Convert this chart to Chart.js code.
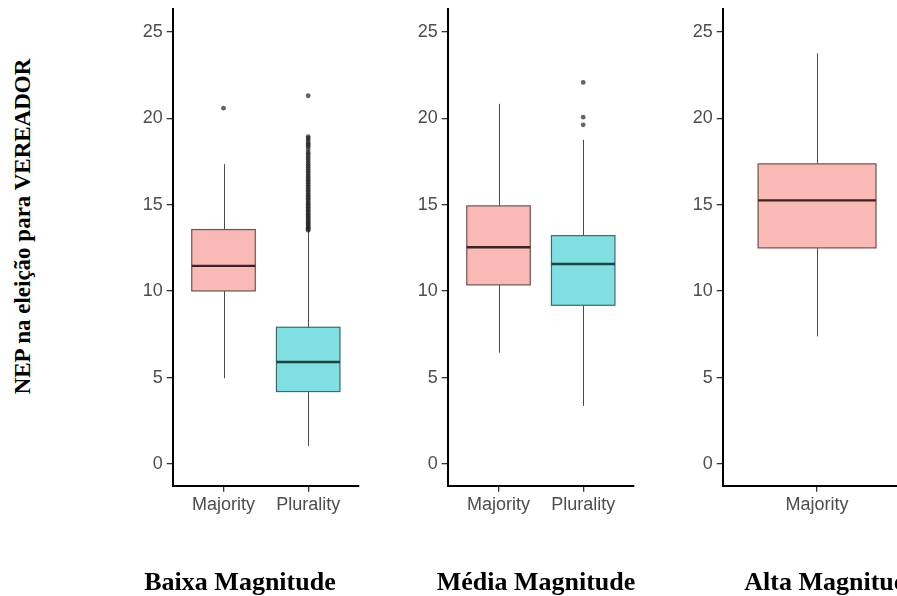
<!DOCTYPE html>
<html><head><meta charset="utf-8">
<script src="https://cdn.jsdelivr.net/npm/chart.js@4.4.1/dist/chart.umd.min.js"></script>
<style>
html,body{margin:0;padding:0;background:#fff;}
body{width:897px;height:596px;overflow:hidden;position:relative;}
canvas{position:absolute;top:0;}
.ptitle{position:absolute;top:569px;width:300px;text-align:center;font-family:'Liberation Serif','Times New Roman',serif;font-weight:bold;font-size:26px;line-height:26px;white-space:nowrap;color:#000;}
#ylab{position:absolute;left:-177.8px;top:214.5px;width:400px;text-align:center;font-family:'Liberation Serif','Times New Roman',serif;font-weight:bold;font-size:23px;line-height:23px;white-space:nowrap;color:#000;transform:rotate(-90deg);}
</style></head><body>
<canvas id="c1" width="263" height="596" style="left:100px"></canvas>
<canvas id="c2" width="263" height="596" style="left:375px"></canvas>
<canvas id="c3" width="263" height="596" style="left:650px"></canvas>
<div id="ylab"></div>
<div class="ptitle" id="t1" style="left:90px"></div>
<div class="ptitle" id="t2" style="left:386px"></div>
<div class="ptitle" id="t3" style="left:682px"></div>
<script>
// ---------- data ----------
const yTicks = [0, 5, 10, 15, 20, 25];
const panelTitles = ['Baixa Magnitude', 'Média Magnitude', 'Alta Magnitude'];
const yTitle = 'NEP na eleição para VEREADOR';

const baixaGroups = ['Majority', 'Plurality'];
const baixaLow = [4.96, 1.04];
const baixaQ1 = [10.01, 4.19];
const baixaMedian = [11.46, 5.90];
const baixaQ3 = [13.56, 7.91];
const baixaHigh = [17.34, 13.48];
const baixaOutMajority = [20.58];
const baixaOutPlurality = [13.52, 13.58, 13.63, 13.70, 13.76, 13.83, 13.90, 13.97, 14.05, 14.12,
  14.20, 14.28, 14.35, 14.43, 14.51, 14.60, 14.68, 14.76, 14.85, 14.93, 15.02, 15.10, 15.19,
  15.28, 15.37, 15.46, 15.55, 15.64, 15.74, 15.83, 15.93, 16.02, 16.12, 16.22, 16.31, 16.41,
  16.52, 16.62, 16.72, 16.83, 16.93, 17.04, 17.15, 17.26, 17.37, 17.48, 17.60, 17.71, 17.83,
  17.95, 18.05, 18.22, 18.36, 18.45, 18.52, 18.62, 18.75, 18.85, 18.94, 21.30];

const mediaGroups = ['Majority', 'Plurality'];
const mediaLow = [6.44, 3.36];
const mediaQ1 = [10.36, 9.18];
const mediaMedian = [12.54, 11.57];
const mediaQ3 = [14.93, 13.21];
const mediaHigh = [20.83, 18.75];
const mediaOutMajority = [];
const mediaOutPlurality = [19.62, 20.06, 22.07];

const altaGroups = ['Majority'];
const altaLow = [7.38];
const altaQ1 = [12.50];
const altaMedian = [15.25];
const altaQ3 = [17.36];
const altaHigh = [23.75];
const altaOutMajority = [];

// ---------- styles ----------
const groupStyle = {
  Majority: { fill: 'rgb(249,185,181)', border: '#6e5250', median: '#3a2424' },
  Plurality: { fill: 'rgb(128,223,225)', border: '#3e6a6b', median: '#1c4243' }
};
const whiskerColor = '#4a4a4a';

const boxPlugin = {
  id: 'boxes',
  beforeDatasetsDraw(chart, args, opts) {
    const { ctx } = chart;
    const x = chart.scales.x, y = chart.scales.y;
    const s = opts;
    ctx.save();
    s.groups.forEach((g, i) => {
      const c = i + 1;
      const st = groupStyle[g];
      const xc = Math.round(x.getPixelForValue(c)) + 0.5;
      const xl = x.getPixelForValue(c - 0.375);
      const xr = x.getPixelForValue(c + 0.375);
      const yLo = y.getPixelForValue(s.low[i]);
      const yQ1 = y.getPixelForValue(s.q1[i]);
      const yMd = y.getPixelForValue(s.median[i]);
      const yQ3 = y.getPixelForValue(s.q3[i]);
      const yHi = y.getPixelForValue(s.high[i]);
      ctx.strokeStyle = whiskerColor;
      ctx.lineWidth = 1;
      ctx.beginPath();
      ctx.moveTo(xc, yHi); ctx.lineTo(xc, yQ3);
      ctx.moveTo(xc, yQ1); ctx.lineTo(xc, yLo);
      ctx.stroke();
      ctx.fillStyle = st.fill;
      ctx.fillRect(xl, yQ3, xr - xl, yQ1 - yQ3);
      ctx.strokeStyle = st.border;
      ctx.lineWidth = 1.2;
      ctx.strokeRect(xl, yQ3, xr - xl, yQ1 - yQ3);
      ctx.strokeStyle = st.median;
      ctx.lineWidth = 2.4;
      ctx.beginPath();
      ctx.moveTo(xl, yMd); ctx.lineTo(xr, yMd);
      ctx.stroke();
    });
    ctx.restore();
  }
};

function outlierPoints(groupIndex, values) {
  return values.map(v => ({ x: groupIndex + 1, y: v }));
}

function zeroPad(sc) {
  sc.paddingTop = 0; sc.paddingBottom = 0; sc.paddingLeft = 0; sc.paddingRight = 0;
}

function makeChart(id, groups, low, q1, median, q3, high, outliers) {
  const pts = [];
  outliers.forEach((vals, i) => pts.push(...outlierPoints(i, vals)));
  const n = groups.length;
  return new Chart(document.getElementById(id), {
    type: 'scatter',
    data: {
      datasets: [{
        data: pts,
        pointRadius: 2.4,
        pointBorderWidth: 0,
        pointBackgroundColor: 'rgba(40,40,40,0.72)',
        pointBorderColor: 'rgba(0,0,0,0)'
      }]
    },
    options: {
      responsive: false,
      animation: false,
      events: [],
      layout: { padding: { left: 0, right: 1.6, top: 9.3, bottom: 0 } },
      plugins: {
        legend: { display: false },
        tooltip: { enabled: false },
        boxes: { groups, low, q1, median, q3, high }
      },
      scales: {
        x: {
          type: 'linear',
          min: 0.4,
          max: n + 0.6,
          afterBuildTicks: sc => { sc.ticks = groups.map((g, i) => ({ value: i + 1 })); },
          afterFit: sc => { sc.height = 110.3; zeroPad(sc); },
          ticks: {
            autoSkip: false,
            maxRotation: 0,
            padding: 3,
            color: '#4d4d4d',
            font: { family: "'Liberation Sans', Arial, sans-serif", size: 18 },
            callback: v => groups[Math.round(v) - 1]
          },
          grid: { display: true, drawOnChartArea: false, drawTicks: true, tickLength: 6, color: '#333', lineWidth: 1.3 },
          border: { display: true, color: '#000', width: 2 }
        },
        y: {
          type: 'linear',
          min: -1.255,
          max: 26.3,
          afterBuildTicks: sc => { sc.ticks = yTicks.map(v => ({ value: v })); },
          afterFit: sc => { sc.width = 72.7; zeroPad(sc); },
          ticks: {
            padding: 4,
            color: '#4d4d4d',
            font: { family: "'Liberation Sans', Arial, sans-serif", size: 18 }
          },
          grid: { display: true, drawOnChartArea: false, drawTicks: true, tickLength: 6, color: '#333', lineWidth: 1.3 },
          border: { display: true, color: '#000', width: 2 }
        }
      }
    },
    plugins: [boxPlugin]
  });
}

makeChart('c1', baixaGroups, baixaLow, baixaQ1, baixaMedian, baixaQ3, baixaHigh, [baixaOutMajority, baixaOutPlurality]);
makeChart('c2', mediaGroups, mediaLow, mediaQ1, mediaMedian, mediaQ3, mediaHigh, [mediaOutMajority, mediaOutPlurality]);
makeChart('c3', altaGroups, altaLow, altaQ1, altaMedian, altaQ3, altaHigh, [altaOutMajority]);

document.getElementById('ylab').textContent = yTitle;
document.getElementById('t1').textContent = panelTitles[0];
document.getElementById('t2').textContent = panelTitles[1];
document.getElementById('t3').textContent = panelTitles[2];
</script>
</body></html>
